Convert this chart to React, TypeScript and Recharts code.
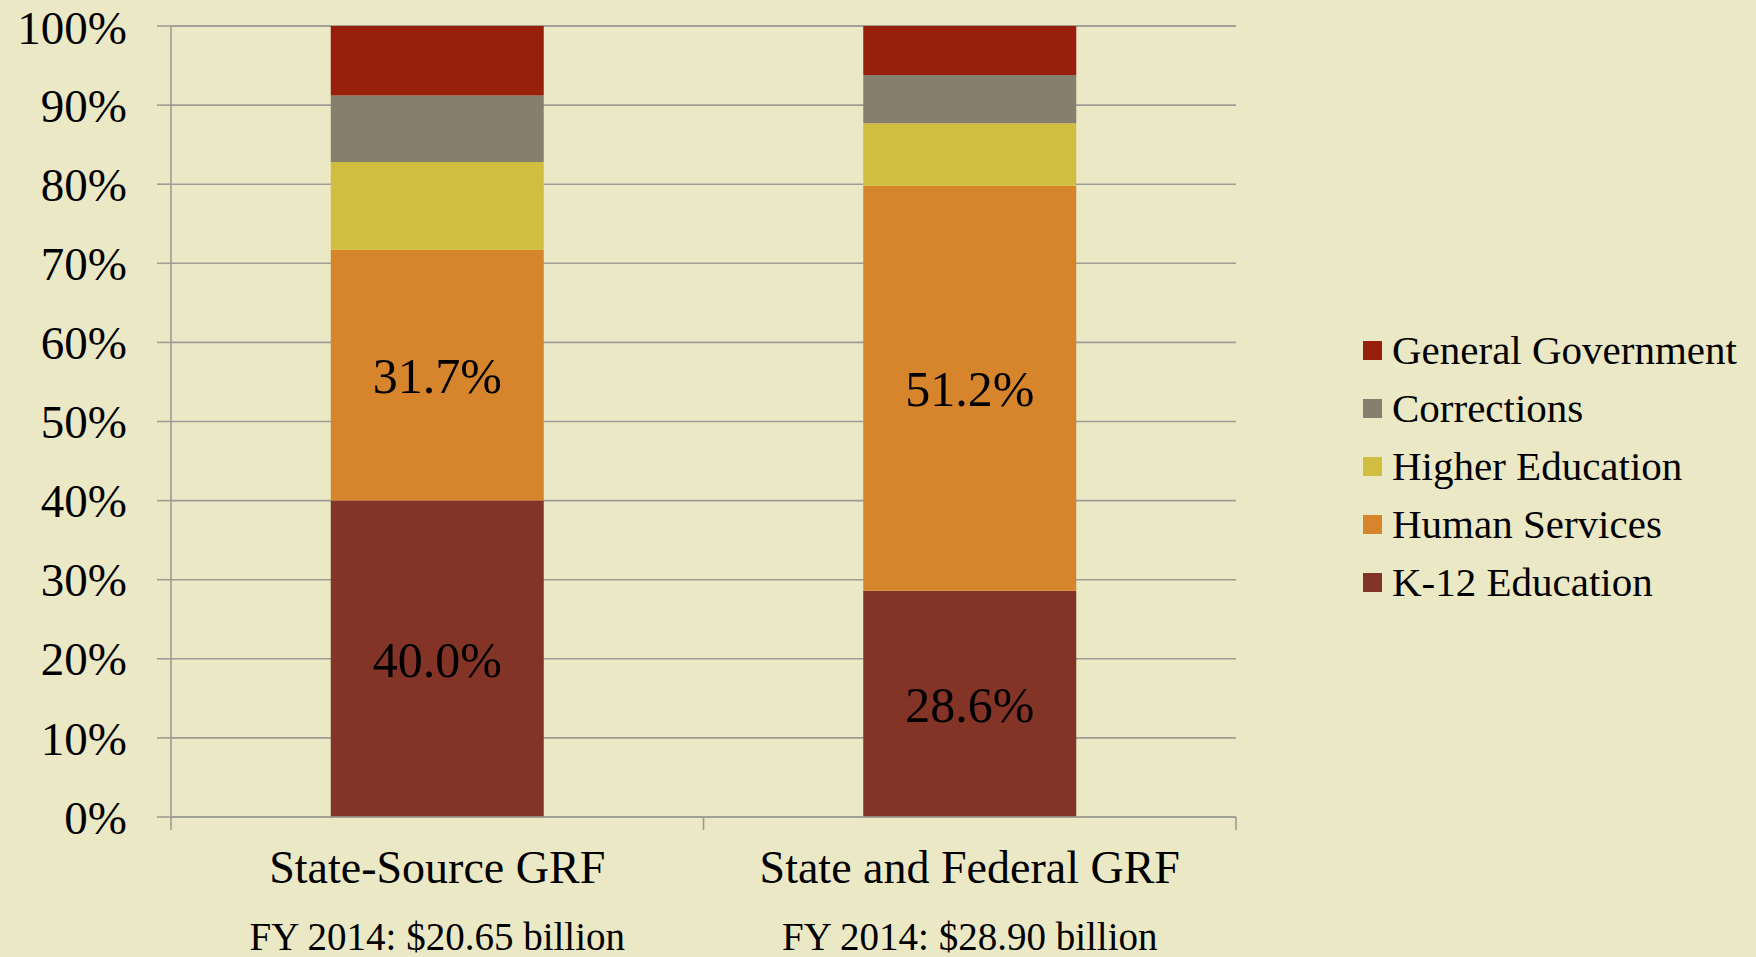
import { BarChart, Bar, XAxis, YAxis, CartesianGrid, Legend, LabelList } from "recharts";

const categories = ["State-Source GRF", "State and Federal GRF"];
const subtitles = ["FY 2014: $20.65 billion", "FY 2014: $28.90 billion"];

// shares of the budget, bottom of the stack first
const k12Education = [40.0, 28.6];
const humanServices = [31.7, 51.2];
const higherEducation = [11.1, 7.9];
const corrections = [8.4, 6.1];
const generalGovernment = [8.8, 6.2];

const yTicks = [0, 10, 20, 30, 40, 50, 60, 70, 80, 90, 100];

const series = [
  { key: "k12", name: "K-12 Education", values: k12Education, color: "#843426", label: true },
  { key: "human", name: "Human Services", values: humanServices, color: "#D6852C", label: true },
  { key: "higher", name: "Higher Education", values: higherEducation, color: "#D1BE40", label: false },
  { key: "corr", name: "Corrections", values: corrections, color: "#877F6D", label: false },
  { key: "gov", name: "General Government", values: generalGovernment, color: "#97200C", label: false },
];

const data = categories.map((c, i) => {
  const row: Record<string, string | number> = { name: c, sub: subtitles[i] };
  series.forEach((s) => (row[s.key] = s.values[i]));
  return row;
});

const FONT = '"Liberation Serif", "DejaVu Serif", serif';
const GRID = "#9D9C95";
const BG = "#EBE8C6";

function CategoryTick(props: any) {
  const { x, y, payload, index } = props;
  const half = payload.offset || 0;
  const last = index === categories.length - 1;
  return (
    <g>
      <line x1={x - half} x2={x - half} y1={y} y2={y + 13} stroke={GRID} strokeWidth={1.6} />
      {last && <line x1={x + half} x2={x + half} y1={y} y2={y + 13} stroke={GRID} strokeWidth={1.6} />}
      <text x={x} y={y + 66} textAnchor="middle" fontFamily={FONT} fontSize={46} fill="#000">
        {payload.value}
      </text>
      <text x={x} y={y + 133} textAnchor="middle" fontFamily={FONT} fontSize={39} fill="#000">
        {subtitles[index]}
      </text>
    </g>
  );
}

function LegendBox(props: any) {
  const payload = props.payload || [];
  // legend lists the top of the stack first
  const items = [...series].reverse().map((s) => {
    const p = payload.find((e: any) => e.value === s.name);
    return { name: s.name, color: p ? p.color : s.color };
  });
  return (
    <div style={{ fontFamily: FONT, fontSize: 41, color: "#000" }}>
      {items.map((it) => (
        <div key={it.name} style={{ display: "flex", alignItems: "center", height: 58 }}>
          <span style={{ width: 19, height: 19, background: it.color, marginRight: 10, flexShrink: 0 }} />
          <span style={{ whiteSpace: "nowrap" }}>{it.name}</span>
        </div>
      ))}
    </div>
  );
}

export default function App() {
  return (
    <div style={{ position: "absolute", left: 0, top: 0, width: 1756, height: 957, background: BG, overflow: "hidden" }}>
      <BarChart
        width={1756}
        height={957}
        data={data}
        margin={{ top: 26, right: 520, bottom: 0, left: 0 }}
        barCategoryGap="30%"
      >
        <CartesianGrid vertical={false} stroke={GRID} strokeWidth={1.6} />
        <XAxis
          dataKey="name"
          height={140}
          tickLine={false}
          tickSize={0}
          tickMargin={0}
          axisLine={{ stroke: GRID, strokeWidth: 1.6 }}
          tick={<CategoryTick />}
          interval={0}
        />
        <YAxis
          domain={[0, 100]}
          ticks={yTicks}
          width={171}
          tickSize={14}
          tickMargin={30}
          axisLine={{ stroke: GRID, strokeWidth: 1.6 }}
          tickLine={{ stroke: GRID, strokeWidth: 1.6 }}
          tickFormatter={(v) => `${v}%`}
          tick={{ fontFamily: FONT, fontSize: 47, fill: "#000" }}
        />
        <Legend
          layout="vertical"
          verticalAlign="middle"
          align="center"
          wrapperStyle={{ top: 321, left: 1363, width: 393 }}
          content={<LegendBox />}
        />
        {series.map((s) => (
          <Bar key={s.key} dataKey={s.key} name={s.name} stackId="a" fill={s.color} isAnimationActive={false}>
            {s.label && (
              <LabelList
                dataKey={s.key}
                position="center"
                formatter={(v: any) => `${Number(v).toFixed(1)}%`}
                style={{ fontFamily: FONT, fontSize: 50, fill: "#000" }}
              />
            )}
          </Bar>
        ))}
      </BarChart>
    </div>
  );
}
